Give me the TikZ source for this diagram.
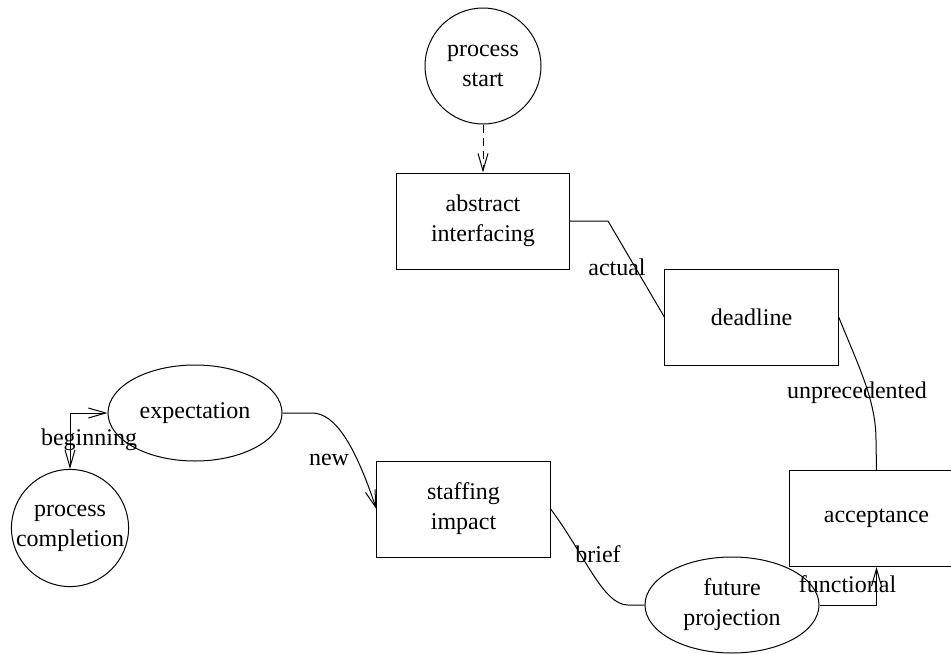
\documentclass[tikz,border=0pt]{standalone}
\usepackage{fontspec}
\setmainfont{Liberation Serif}
\usetikzlibrary{arrows.meta,shapes.geometric}
\begin{document}
\begin{tikzpicture}[x=0.75pt,y=-0.75pt,
  every node/.style={font=\fontsize{18}{22.5}\selectfont, align=center},
  conn/.style={draw=black, line width=0.75pt},
  tip/.style={-{Straight Barb[length=13pt,width=7.5pt,line width=0.75pt]}},
  boxnode/.style={draw, line width=0.75pt, rectangle, minimum width=130pt, minimum height=72pt, inner sep=0pt},
  ellnode/.style={draw, line width=0.75pt, ellipse, minimum width=130.5pt, minimum height=72pt, inner sep=0pt},
  circnode/.style={draw, line width=0.75pt, circle, minimum size=87pt, inner sep=0pt},
  lbl/.style={inner sep=0pt}
]
\useasboundingbox (0,0) rectangle (951,654);

\node[circnode] (ps) at (483,66) {process\\start};
\node[boxnode] (ai) at (483,221) {abstract\\interfacing};
\node[boxnode] (dl) at (751.5,317) {deadline};
\node[boxnode] (acc) at (876.5,518.5) {acceptance};
\node[ellnode] (fp) at (732,605) {future\\projection};
\node[boxnode] (st) at (463.5,509) {staffing\\impact};
\node[ellnode] (ex) at (195,413) {expectation};
\node[circnode] (pc) at (70,528) {process\\completion};

\coordinate (c1) at (608,221);
\coordinate (c2) at (876,440);
\coordinate (c3) at (628,605);
\coordinate (c4) at (312,413);

\draw[conn, tip, dash pattern=on 6pt off 4pt] (ps.south) -- (ai.north);
\draw[conn] (ai.east) -- (c1) -- (dl.west);
\node[lbl] (lactual) at (617,267) {actual};
\draw[conn] (dl.east) .. controls (858,365) and (876,400) .. (c2) -- (acc.north);
\node[lbl] (lunp) at (857,393) {unprecedented};
\draw[conn, tip] (fp.east) -| (acc.south);
\node[lbl] (lfunc) at (847.5,584) {functional};
\draw[conn] (st.east) .. controls (585,555) and (603,605) .. (c3) -- (fp.west);
\node[lbl] (lbrief) at (598,554) {brief};
\draw[conn, tip] (ex.east) -- (c4) .. controls (335,413) and (355,445) .. (st.west);
\node[lbl] (lnew) at (329,460) {new};
\draw[conn, {Straight Barb[length=13pt,width=7.5pt,line width=0.75pt]}-{Straight Barb[length=13pt,width=7.5pt,line width=0.75pt]}] (pc.north) |- (ex.west);
\node[lbl] (lbeg) at (89,440) {beginning};
\end{tikzpicture}
\end{document}
